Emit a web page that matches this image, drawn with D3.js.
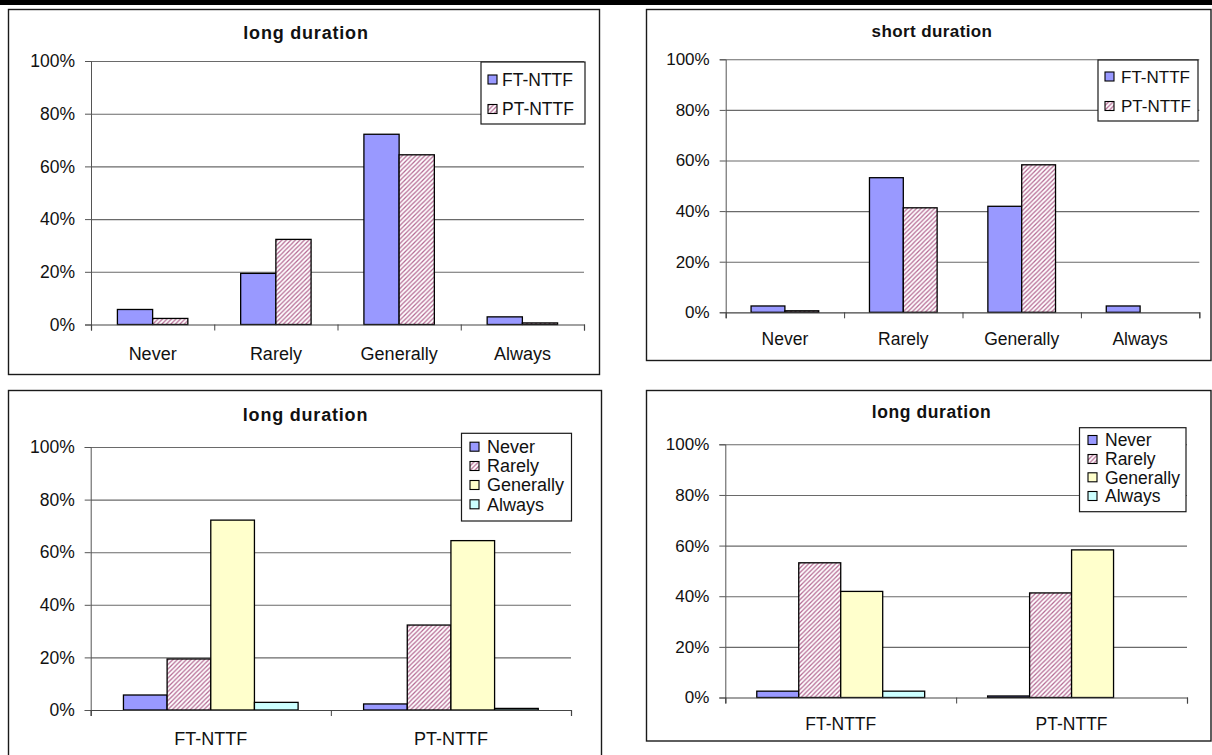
<!DOCTYPE html>
<html>
<head>
<meta charset="utf-8">
<script src="https://cdn.jsdelivr.net/npm/d3@7"></script>
<style>
  html, body { margin: 0; padding: 0; background: #fff; }
  svg { display: block; font-family: "Liberation Sans", Arial, sans-serif; }
</style>
</head>
<body>
<svg id="chart" width="1212" height="755"></svg>
<script>
// Survey answers: how often the break is taken, by faculty type
const responses = ["Never", "Rarely", "Generally", "Always"];
const groups = ["FT-NTTF", "PT-NTTF"];
const yTicks = [0, 20, 40, 60, 80, 100];

// long duration, % of each group
const longFT = [5.7, 19.4, 72.2, 2.9];
const longPT = [2.3, 32.3, 64.4, 0.6];
// short duration, % of each group
const shortFT = [2.5, 53.2, 41.9, 2.5];
const shortPT = [0.6, 41.3, 58.3, 0];

const svg = d3.select("#chart");

// hatch pattern used for PT-NTTF / Rarely
const defs = svg.append("defs");
const pat = defs.append("pattern")
  .attr("id", "hatch")
  .attr("patternUnits", "userSpaceOnUse")
  .attr("width", 4.5).attr("height", 4.5);
pat.append("rect").attr("width", 4.5).attr("height", 4.5).attr("fill", "#fff");
pat.append("path")
  .attr("d", "M-1.125,1.125 l2.25,-2.25 M0,4.5 l4.5,-4.5 M3.375,5.625 l2.25,-2.25")
  .attr("stroke", "#b46892").attr("stroke-width", 1.25);

const fills = {
  "FT-NTTF": "#9999ff",
  "PT-NTTF": "url(#hatch)",
  "Never": "#9999ff",
  "Rarely": "url(#hatch)",
  "Generally": "#ffffcc",
  "Always": "#ccffff"
};

// top rule of the page
svg.append("rect").attr("x", 0).attr("y", 0).attr("width", 1212).attr("height", 5).attr("fill", "#000");

function drawPanel(p) {
  const g = svg.append("g");
  g.append("rect")
    .attr("x", p.box[0]).attr("y", p.box[1])
    .attr("width", p.box[2] - p.box[0]).attr("height", p.box[3] - p.box[1])
    .attr("fill", "#fff").attr("stroke", "#1a1a1a").attr("stroke-width", 1.4);

  const y = d3.scaleLinear().domain([0, 100]).range([p.plot.b, p.plot.t]);
  const nSeries = p.series.length;
  const gap = 1.5 / (nSeries + 1.5);
  const x = d3.scaleBand().domain(p.cats)
    .range([p.plot.l, p.plot.r]).paddingInner(gap).paddingOuter(gap / 2);
  const xs = d3.scaleBand().domain(p.series).range([0, x.bandwidth()]);
  const edges = d3.scaleLinear().domain([0, p.cats.length]).range([p.plot.l, p.plot.r]);

  // gridlines
  g.append("g").selectAll("line").data(yTicks.filter(d => d > 0)).join("line")
    .attr("x1", p.plot.l).attr("x2", p.plot.r)
    .attr("y1", d => y(d) + 0.5).attr("y2", d => y(d) + 0.5)
    .attr("stroke", "#6a6a6a").attr("stroke-width", 1.1);

  // bars
  p.cats.forEach((c, ci) => {
    p.series.forEach((s, si) => {
      const v = p.value(ci, si);
      g.append("rect")
        .attr("x", x(c) + xs(s)).attr("y", y(v))
        .attr("width", xs.bandwidth()).attr("height", y(0) - y(v))
        .attr("fill", fills[s]).attr("stroke", "#000").attr("stroke-width", 1.3);
    });
  });

  // y axis
  const ya = g.append("g").attr("transform", `translate(${p.plot.l},0)`)
    .call(d3.axisLeft(y).tickValues(yTicks).tickFormat(d => d + "%").tickSize(6).tickPadding(10));
  ya.select(".domain").attr("stroke", "#555");
  ya.selectAll(".tick line").attr("stroke", "#555");
  ya.selectAll("text").attr("font-size", p.tickFont).attr("fill", "#111");

  // x axis: tick marks at category edges, labels at centres
  const xa = g.append("g").attr("transform", `translate(0,${p.plot.b})`)
    .call(d3.axisBottom(edges).tickValues(d3.range(p.cats.length + 1)).tickFormat("").tickSize(6));
  xa.select(".domain").attr("stroke", "#444").attr("stroke-width", 1.2);
  xa.selectAll(".tick line").attr("stroke", "#444");
  const xl = g.append("g").attr("transform", `translate(0,${p.plot.b})`)
    .call(d3.axisBottom(x).tickSize(0));
  xl.select(".domain").remove();
  xl.selectAll("text").attr("dy", null).attr("y", p.catOffset)
    .attr("font-size", p.catFont).attr("fill", "#111");

  // title
  g.append("text").attr("x", p.title.x).attr("y", p.title.y)
    .attr("text-anchor", "middle").attr("font-weight", "bold")
    .attr("font-size", p.title.size).attr("letter-spacing", p.title.ls)
    .attr("fill", "#111").text(p.title.text);

  // legend
  const L = p.legend;
  g.append("rect").attr("x", L.x).attr("y", L.y).attr("width", L.w).attr("height", L.h)
    .attr("fill", "#fff").attr("stroke", "#1a1a1a").attr("stroke-width", 1.2);
  p.series.forEach((s, i) => {
    g.append("rect").attr("x", L.sx).attr("y", L.items[i] - 4.5)
      .attr("width", 9).attr("height", 9)
      .attr("fill", fills[s]).attr("stroke", "#000").attr("stroke-width", 1.1);
    g.append("text").attr("x", L.tx).attr("y", L.items[i]).attr("dy", "0.36em")
      .attr("font-size", L.font).attr("fill", "#111").text(s);
  });
}

const longVals = [longFT, longPT];
const shortVals = [shortFT, shortPT];

drawPanel({
  box: [8.5, 9.5, 599.5, 374.5],
  plot: { l: 91, r: 584, t: 61, b: 324.5 },
  cats: responses, series: groups,
  value: (ci, si) => longVals[si][ci],
  title: { text: "long duration", x: 306, y: 39, size: 18, ls: 0.8 },
  legend: { x: 481, y: 62, w: 104, h: 62, items: [79.5, 109], sx: 488, tx: 502, font: 17.5 },
  tickFont: 17.5, catFont: 18, catOffset: 35
});

drawPanel({
  box: [646.5, 9.5, 1211, 360.5],
  plot: { l: 725.7, r: 1199.3, t: 59.3, b: 312.3 },
  cats: responses, series: groups,
  value: (ci, si) => shortVals[si][ci],
  title: { text: "short duration", x: 932, y: 36.5, size: 17, ls: 0.4 },
  legend: { x: 1098, y: 60, w: 100, h: 61, items: [76.5, 106], sx: 1105, tx: 1121, font: 17 },
  tickFont: 17, catFont: 17.5, catOffset: 33
});

drawPanel({
  box: [8.5, 390.5, 601.5, 770],
  plot: { l: 90.7, r: 571, t: 447, b: 710 },
  cats: groups, series: responses,
  value: (ci, si) => longVals[ci][si],
  title: { text: "long duration", x: 305.5, y: 420.7, size: 18, ls: 0.8 },
  legend: { x: 461.5, y: 433.3, w: 110, h: 87.7, items: [446.7, 466, 485, 504.3], sx: 470, tx: 487, font: 18 },
  tickFont: 17.5, catFont: 18, catOffset: 35
});

drawPanel({
  box: [646.5, 390.5, 1211, 741],
  plot: { l: 725.3, r: 1187, t: 444.3, b: 697.5 },
  cats: groups, series: responses,
  value: (ci, si) => shortVals[ci][si],
  title: { text: "long duration", x: 931.5, y: 418.3, size: 17.5, ls: 0.6 },
  legend: { x: 1079.5, y: 427.7, w: 106.5, h: 84, items: [440, 459, 477.3, 496], sx: 1088, tx: 1105, font: 17.5 },
  tickFont: 17, catFont: 17.5, catOffset: 32.5
});
</script>
</body>
</html>
